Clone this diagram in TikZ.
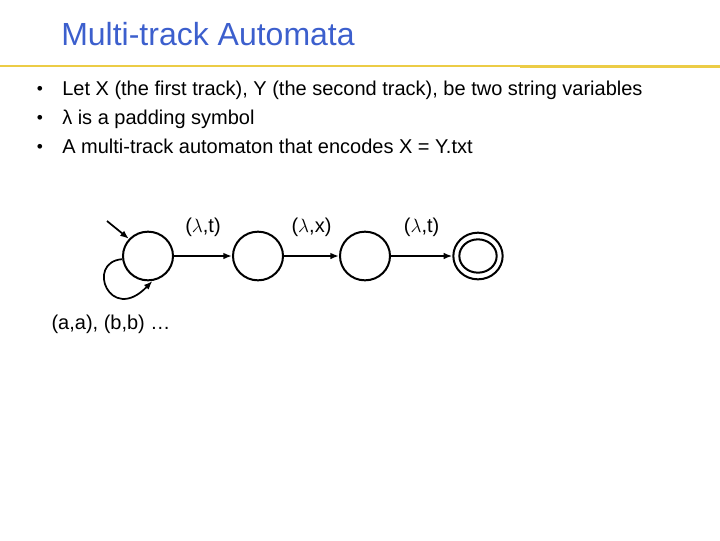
\documentclass[tikz,border=0pt]{standalone}
\usepackage{fontspec}
\setmainfont{Liberation Sans}
\usetikzlibrary{arrows.meta,shapes.geometric}
\definecolor{titleblue}{RGB}{60,95,205}
\definecolor{ruleyellow}{RGB}{236,204,70}

\begin{document}
\begin{tikzpicture}[x=0.75pt,y=-0.75pt,
    state/.style={ellipse, draw, line width=1.5pt, minimum width=37.5pt, minimum height=36.5pt, inner sep=0pt},
    trans/.style={line width=1.3pt, -{Latex[length=6.5pt,width=5pt]}},
    lbl/.style={font=\fontsize{15}{18}\selectfont, inner sep=0pt},
    bullettext/.style={anchor=base west, font=\fontsize{15}{18}\selectfont, inner sep=0pt},
    dot/.style={anchor=base, font=\fontsize{13}{15}\selectfont, inner sep=0pt}]

\useasboundingbox (0,0) rectangle (720,540);

% title and rule
\node[anchor=base west, inner sep=0pt, text=titleblue, font=\fontsize{24}{28}\selectfont] (title) at (61,45) {Multi-track Automata};
\draw[ruleyellow, line width=1.5pt] (0,66) -- (520,66);
\draw[ruleyellow, line width=2.5pt] (520,66.5) -- (720,66.5);

% bullets
\node[dot] (b1) at (40,94) {\textbullet};
\node[bullettext] (t1) at (62,95) {Let X (the first track), Y (the second track), be two string variables};
\node[dot] (b2) at (40,123) {\textbullet};
\node[bullettext] (t2) at (62,124) {λ is a padding symbol};
\node[dot] (b3) at (40,152) {\textbullet};
\node[bullettext] (t3) at (62,153) {A multi-track automaton that encodes X = Y.txt};

% automaton
\node[state] (s1) at (148,256) {};
\node[state] (s2) at (258,256) {};
\node[state] (s3) at (365,256) {};
\node[state, minimum width=37pt, minimum height=35pt] (s4) at (478,256) {};
\node[ellipse, draw, line width=1.5pt, minimum width=28pt, minimum height=25pt, inner sep=0pt] (s4in) at (s4.center) {};

\coordinate (init) at (107,221);
\draw[trans] (init) -- (s1.138);
\draw[trans] (s1.187) .. controls (85,262) and (110,325) .. (s1.280);

\draw[trans] (s1) -- node[lbl, yshift=21.5pt] (l1) {($\lambda$,t)} (s2);
\draw[trans] (s2) -- node[lbl, yshift=21.5pt] (l2) {($\lambda$,x)} (s3);
\draw[trans] (s3) -- node[lbl, yshift=21.5pt] (l3) {($\lambda$,t)} (s4);

\node[lbl, anchor=base] (loopl) at (111,329) {(a,a), (b,b) \dots};

\end{tikzpicture}
\end{document}
